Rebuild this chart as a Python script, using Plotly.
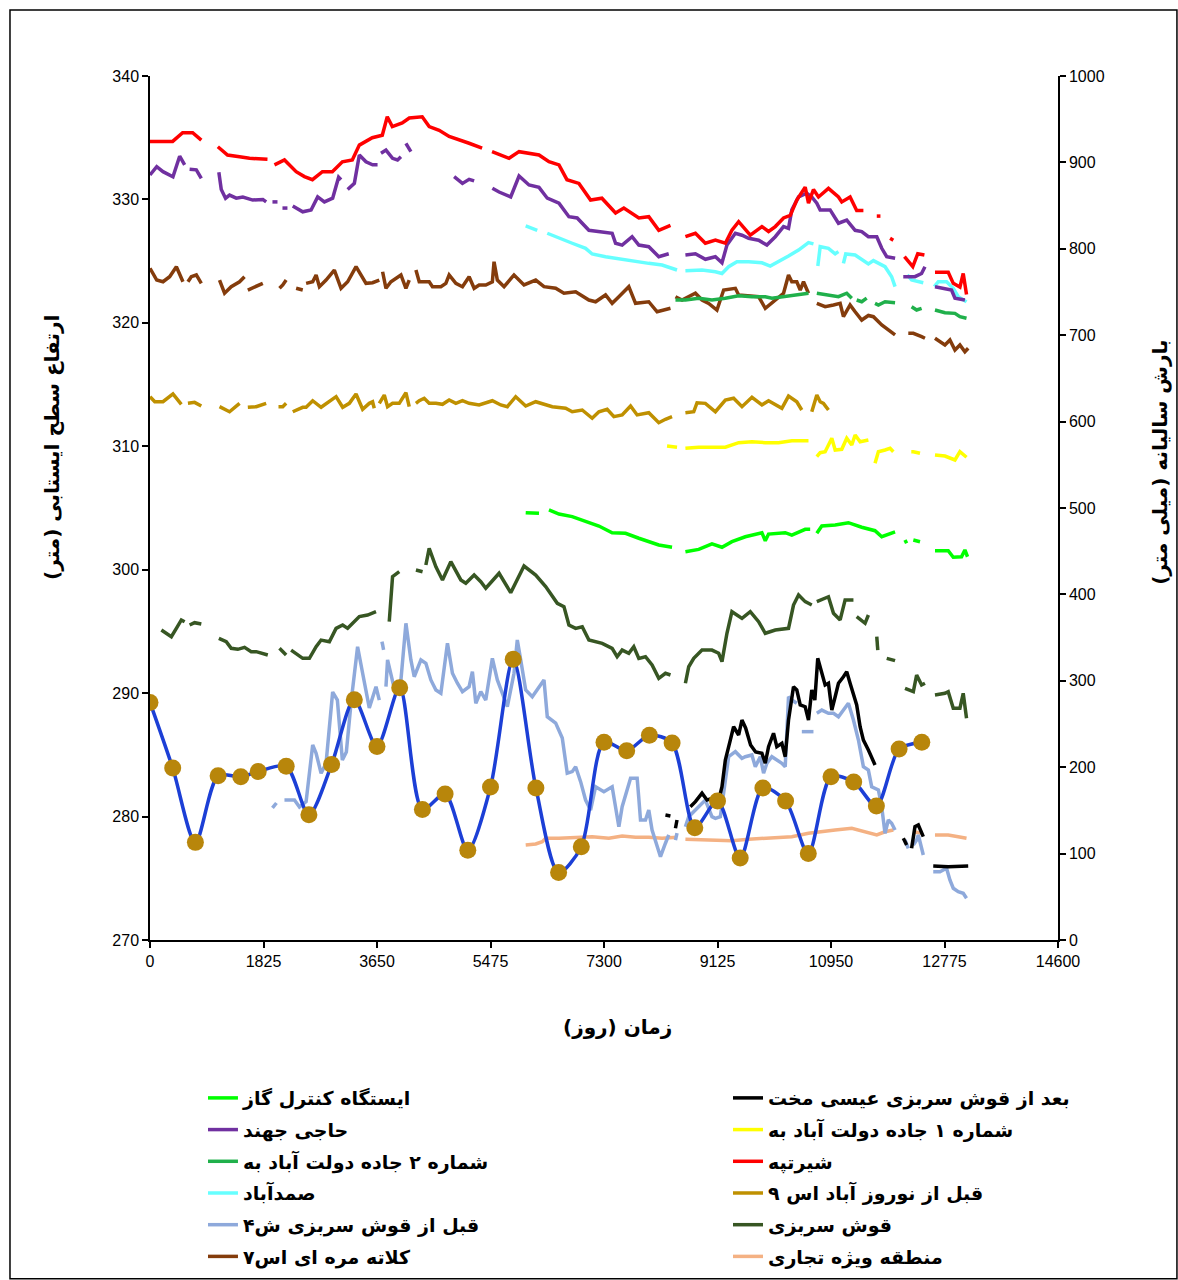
import plotly.graph_objects as go

# ---------------- annual precipitation (right axis) ----------------
RAIN_DAYS = [0, 365, 730, 1095, 1460, 1740, 2190, 2555, 2920, 3285, 3650, 4015, 4380, 4745,
             5110, 5475, 5840, 6205, 6570, 6935, 7300, 7665, 8030, 8395, 8760, 9125, 9490,
             9855, 10220, 10585, 10950, 11315, 11680, 12045, 12410]
RAIN_MM = [275, 199, 113, 190, 189, 195, 201, 145, 203, 278, 224, 292, 151, 169, 104, 177, 325,
           176, 78, 108, 229, 219, 237, 228, 130, 161, 95, 176, 161, 100, 189, 183, 155, 221, 229]

# ---------------- groundwater levels (left axis), None marks a gap ----------------
GAS_DAYS = [6041, 6255, None, 6415, 6576, 6789, 7004, 7218, 7431, 7646, 7860, 8181, 8394, None,
            8609, 8823, 9036, 9197, 9357, 9572, 9839, 9893, 9946, 10214, 10320, 10535, 10615, None,
            10722, 10802, 11017, 11230, 11444, 11658, 11766, 11980, None, 12140, 12166, None,
            12274, 12381, None, 12622, 12835, 12916, 13049, 13103, 13145]
GAS_LEVEL = [304.62, 304.57, None, 304.84, 304.51, 304.3, 303.89, 303.54, 303.0, 302.95, 302.55, 302.0, 301.82, None,
             301.46, 301.65, 302.09, 301.82, 302.27, 302.67, 303.0, 302.35, 302.89, 303.0, 302.81, 303.27, 303.27, None,
             302.95, 303.54, 303.62, 303.81, 303.44, 303.16, 302.67, 303.06, None, 302.41, 302.14, None,
             302.41, 302.27, None, 301.54, 301.54, 301.01, 301.05, 301.6, 301.05]

AFTER_GHOSH_DAYS = [8288, 8368, None, 8449, 8474, None,
                    8689, 8770, 8876, 8956, 9036, 9144, 9197, 9251, 9331, 9384, 9465, 9518, 9577, 9657,
                    9738, 9839, 9893, 9946, 10026, 10079, 10160, 10214, 10267, 10347, 10400, 10455, 10535,
                    10588, 10641, 10690, 10737, 10802, 10856, 10909, 10963, 11017, 11070, 11150, 11203,
                    11257, 11311, 11363, 11418, 11471, 11551, 11604, 11658, None,
                    12113, 12166, None, 12246, 12300, 12354, 12434, None, 12594, 12835, 13156]
AFTER_GHOSH_LEVEL = [280.13, 280.05, None, 279.05, 279.72, None,
                     280.8, 281.21, 281.89, 281.34, 281.48, 281.34, 282.42, 284.58, 286.2, 287.28, 286.61,
                     287.82, 287.18, 285.8, 285.23, 285.13, 284.32, 285.66, 286.75, 285.66, 285.94, 284.85,
                     287.82, 290.52, 290.26, 289.04, 288.9, 287.82, 290.26, 289.44, 292.82, 291.74, 290.66,
                     290.8, 288.63, 289.71, 290.8, 291.33, 291.74, 290.8, 289.99, 289.04, 287.28, 286.2,
                     285.39, 284.85, 284.18, None,
                     278.24, 277.7, None, 277.43, 279.18, 279.32, 278.37, None, 276.0, 275.94, 276.0]

HAJI_DAYS = [0, 108, 209, 369, 477, 557, None, 637, 745, 825, None,
             1107, 1146, 1215, 1279, 1387, 1493, 1653, 1814, 1868, None, 1969, 2050, None, 2130, 2210, None,
             2295, 2456, 2590, 2696, 2804, 2937, 3033, 3072, None,
             3178, 3286, 3366, 3473, 3579, 3659, None, 3714, 3794, 3900, 3980, 4035, None, 4115, 4195, None,
             4890, 5024, 5131, 5212, None,
             5505, 5613, 5800, 5934, 6094, 6255, 6388, 6576, 6736, 6869, 7057, 7271, 7431, 7486, 7592,
             7752, 7860, 8020, 8181, 8341, None,
             8609, 8770, 8930, 9091, 9197, 9277, 9412, 9519, 9625, 9786, 9919, 10054, 10187, 10267,
             10320, 10428, 10561, 10641, 10722, 10776, 10936, 11070, 11203, 11338, 11444, 11551,
             11686, 11766, 11846, 11981, None,
             12112, 12300, 12406, 12461, None, 12622, 12782, 12888, 12943, 13103]
HAJI_LEVEL = [331.98, 332.65, 332.25, 331.84, 333.5, 332.8, None, 332.45, 332.4, 331.7, None,
              332.2, 330.8, 330.1, 330.35, 330.1, 330.2, 329.95, 330.0, 329.8, None, 329.8, 329.8, None, 329.3, 329.3, None,
              329.47, 329.0, 329.15, 330.2, 329.8, 330.1, 331.8, 331.6, None,
              330.8, 331.3, 333.6, 333.05, 332.8, 332.8, None, 333.74, 334.0, 333.33, 333.2, 333.46, None, 334.55, 333.87, None,
              331.84, 331.3, 331.63, 331.5, None,
              330.9, 330.6, 330.2, 331.9, 331.17, 330.98, 330.1, 329.7, 328.6, 328.5, 327.5, 327.4, 327.26, 326.45, 326.3,
              326.98, 326.3, 326.17, 325.36, 325.6, None,
              325.5, 325.6, 325.15, 325.36, 324.87, 326.3, 327.26, 327.1, 326.85, 326.7, 326.3, 326.98, 327.8, 327.66,
              329.15, 330.2, 330.5, 330.2, 329.7, 329.15, 329.15, 328.07, 328.33, 327.5, 327.4, 326.98,
              326.98, 326.04, 325.36, 325.23, None,
              323.74, 323.74, 324.0, 324.55, None, 322.93, 322.8, 322.66, 322.0, 321.85]

ROAD1_DAYS = [8314, 8474, None, 8609, 8823, 9036, 9251, 9465, 9679, 9893, 10107, 10320, 10588, None,
              10722, 10776, 10856, 10963, 11017, 11123, 11203, 11284, 11338, 11418, 11551, None,
              11658, 11712, 11819, 11900, 11952, None, 12241, 12274, 12381, None,
              12622, 12782, 12943, 13023, 13129]
ROAD1_LEVEL = [310.02, 309.92, None, 309.84, 309.92, 309.92, 309.92, 310.29, 310.37, 310.29, 310.29, 310.45, 310.45, None,
               309.16, 309.48, 309.56, 310.65, 309.7, 309.76, 310.65, 310.1, 310.91, 310.37, 310.51, None,
               308.62, 309.56, 309.7, 309.84, 309.56, None, 309.56, 309.56, 309.43, None,
               309.3, 309.21, 308.89, 309.56, 309.11]

ROAD2_DAYS = [8449, 8609, 8823, 9036, 9251, 9465, 9679, 9893, 10000, 10214, 10375, 10588, None,
              10722, 10909, 11070, 11203, 11284, None, 11363, 11444, 11524, None,
              11658, 11712, 11819, 11980, None, 12246, 12327, 12407, None,
              12622, 12782, 12943, 13023, 13129]
ROAD2_LEVEL = [321.85, 321.85, 322.0, 321.85, 322.0, 322.2, 322.12, 322.12, 322.0, 322.12, 322.26, 322.4, None,
               322.4, 322.26, 322.12, 322.4, 322.0, None, 321.85, 321.71, 322.0, None,
               321.58, 321.45, 321.71, 321.63, None, 321.31, 321.04, 321.18, None,
               321.04, 320.82, 320.77, 320.5, 320.37]

SHIR_DAYS = [0, 364, 525, 686, 825, None, 1091, 1247, 1440, 1600, 1889, None,
             2001, 2162, 2350, 2483, 2612, 2772, 2932, 3093, 3253, 3366, 3574, 3735, 3815, 3896, 4056,
             4169, 4377, 4489, 4650, 4810, 5131, 5340, None,
             5500, 5773, 5934, 6094, 6255, 6415, 6576, 6704, 6897, 7084, 7266, 7486, 7619, 7860, 8020,
             8181, 8369, None,
             8609, 8770, 8930, 9091, 9251, 9357, 9465, 9652, 9839, 9946, 10054, 10187, 10295, 10400,
             10535, 10588, 10668, 10749, 10909, 11070, 11123, 11257, 11363, 11471, None,
             11686, 11745, None, 11900, 11952, None, 12131, 12265, 12345, 12452, None,
             12622, 12835, 12916, 13023, 13076, 13129]
SHIR_LEVEL = [334.7, 334.7, 335.4, 335.4, 334.8, None, 334.27, 333.6, 333.46, 333.33, 333.25, None,
              332.8, 333.2, 332.25, 331.85, 331.6, 332.25, 332.25, 333.05, 333.2, 334.4, 335.0, 335.2, 336.7, 335.9, 336.2,
              336.6, 336.7, 335.9, 335.6, 335.1, 334.55, 334.15, None,
              333.87, 333.33, 333.87, 333.74, 333.6, 333.05, 332.8, 331.6, 331.3, 329.95, 330.1, 328.9, 329.3, 328.5, 328.6,
              327.5, 327.9, None,
              326.98, 327.26, 326.45, 326.7, 326.45, 327.5, 328.2, 327.1, 327.8, 327.4, 327.8, 328.5, 328.7, 329.95,
              331.0, 329.7, 330.8, 330.2, 330.9, 330.2, 329.8, 330.2, 329.1, 329.1, None,
              328.65, 328.65, None, 326.85, 326.7, None, 325.36, 324.55, 325.6, 325.5, None,
              324.1, 324.1, 323.2, 322.9, 324.0, 322.3]

SAMAD_DAYS = [6041, 6227, None,
              6388, 6576, 6789, 7004, 7110, 7325, 7592, 7807, 8020, 8234, 8474, None,
              8609, 8876, 9091, 9197, 9304, 9437, 9625, 9839, 9973, 10107, 10267, 10428, 10588, 10668, None,
              10738, 10776, 10909, 11017, 11070, None,
              11150, 11187, 11338, 11498, 11551, 11632, 11819, 11925, 11980, None,
              12177, 12246, 12434, None, 12611, 12675, 12808, 12916, 12996, 13129]
SAMAD_LEVEL = [327.85, 327.5, None,
               327.26, 326.85, 326.45, 326.04, 325.58, 325.36, 325.15, 324.95, 324.82, 324.69, 324.28, None,
               324.23, 324.28, 324.14, 324.0, 324.55, 324.95, 324.95, 324.87, 324.6, 324.95, 325.42, 325.9, 326.5, 326.4, None,
               324.6, 326.17, 326.04, 325.6, 325.77, None,
               324.82, 325.58, 325.5, 325.0, 324.77, 325.04, 324.55, 323.74, 322.93, None,
               323.88, 323.47, 323.25, None, 322.93, 323.33, 323.33, 322.8, 322.12, 321.7]

NOWRUZ_DAYS = [0, 77, 209, 369, 504, None, 610, 717, 825, None, 1118, 1279, 1440, None,
               1573, 1708, 1868, None, 2066, 2135, 2189, None,
               2295, 2376, 2456, 2510, 2616, 2751, 2884, 2992, 3098, 3205, 3313, 3419, 3526, 3579, 3606, None,
               3687, 3767, 3820, 3900, 4008, 4115, 4168, None,
               4276, 4329, 4409, 4489, 4597, 4703, 4810, 4918, 5024, 5131, 5292, 5452, 5505, 5640, 5746,
               5880, 6041, 6202, 6362, 6469, 6683, 6789, 6950, 7110, 7218, 7351, 7459, 7592, 7727, 7833,
               8020, 8181, 8288, 8394, None,
               8609, 8743, 8796, 8930, 9091, 9251, 9384, 9519, 9679, 9839, 9946, 10160, 10267, 10400, 10480, None,
               10641, 10722, 10776, 10829, 10909]
NOWRUZ_LEVEL = [314.02, 313.61, 313.61, 314.24, 313.4, None, 313.48, 313.56, 313.26, None, 313.21, 312.8, 313.48, None,
                313.16, 313.21, 313.48, None, 313.21, 313.21, 313.48, None,
                312.8, 313.0, 313.16, 313.16, 313.69, 313.16, 313.61, 314.02, 313.16, 313.48, 314.24, 313.0, 313.48, 313.61, 313.08, None,
                313.48, 314.15, 313.21, 313.48, 313.48, 314.34, 313.21, None,
                313.48, 313.69, 313.89, 313.48, 313.48, 313.4, 313.75, 313.48, 313.69, 313.48, 313.35, 313.61, 313.69, 313.35, 313.21,
                314.02, 313.26, 313.61, 313.35, 313.21, 313.08, 312.8, 312.94, 312.27, 312.8, 313.0, 312.4, 312.54, 313.26, 312.54,
                312.72, 311.91, 312.19, 312.4, None,
                312.72, 312.8, 313.53, 313.48, 312.8, 313.75, 313.89, 313.21, 313.97, 313.35, 313.69, 313.08, 314.07, 313.61, 312.94, None,
                312.8, 314.15, 313.61, 313.48, 312.94]

BEFORE_GHOSH_DAYS = [1969, 2033, None,
                     2162, 2323, 2403, 2510, 2616, 2671, 2751, 2831, 2937, 3013, 3093, 3157, 3237, 3338, 3419,
                     3526, 3634, 3687, None, 3730, 3756, None,
                     3794, 3820, 3927, 4035, 4115, 4195, 4249, 4356, 4436, 4516, 4597, 4677, 4783, 4863, 4943,
                     5024, 5131, 5184, 5239, 5319, 5399, 5505, 5585, 5666, 5746, 5853, 5906, 5961, 6041, 6147,
                     6255, 6335, 6388, 6523, 6629, 6709, 6789, 6844, 6924, 7004, 7084, 7165, 7298, 7431, 7539,
                     7592, 7727, 7833, 7860, 7887, 7967, 8020, 8073, 8154, 8208, 8288, 8341, None,
                     8449, 8474, None,
                     8609, 8662, 8770, 8930, 9036, 9091, 9171, 9251, 9304, 9412, 9518, 9572, 9678, 9733, 9813,
                     9866, 9919, 9999, 10079, 10160, 10214, 10267, 10320, 10400, None,
                     10481, 10668, None,
                     10722, 10802, 10909, 10990, 11070, 11150, 11230, 11311, 11391, 11471, 11551, 11604, 11712,
                     11765, 11819, 11872, 11925, 11980, None,
                     12140, 12193, None, 12274, 12327, 12354, 12407, 12434, None,
                     12594, 12702, 12808, 12862, 12916, 12996, 13076, 13129]
BEFORE_GHOSH_LEVEL = [280.7, 281.1, None,
                      281.34, 281.34, 280.78, 281.21, 285.8, 285.13, 283.51, 284.32, 290.09, 289.44, 284.58, 285.23, 289.44, 293.76, 291.61,
                      288.8, 290.52, 289.44, None, 294.17, 293.5, None,
                      290.52, 292.69, 290.39, 291.07, 295.66, 292.69, 291.33, 292.69, 292.42, 291.07, 290.26, 289.99, 294.04, 291.61, 290.8,
                      290.12, 290.52, 291.74, 289.18, 290.12, 289.44, 292.82, 291.07, 289.99, 288.9, 291.61, 294.31, 292.69, 290.26, 289.71,
                      290.52, 291.07, 288.09, 287.58, 286.37, 283.51, 283.64, 284.04, 282.83, 281.34, 280.53, 282.42, 282.02, 282.42, 279.18,
                      280.8, 283.1, 283.1, 281.48, 279.72, 279.72, 280.53, 278.91, 277.56, 276.75, 277.84, 278.51, None,
                      278.1, 278.65, None,
                      279.18, 279.99, 280.53, 281.34, 279.99, 279.86, 279.99, 282.7, 284.85, 285.26, 284.72, 284.85, 284.99, 284.04, 284.85,
                      283.51, 284.32, 284.85, 284.58, 284.32, 284.04, 289.71, 289.44, 289.18, None,
                      286.88, 286.88, None,
                      288.37, 288.63, 288.37, 288.37, 288.09, 288.63, 289.18, 287.82, 286.2, 284.04, 283.77, 282.42, 282.15,
                      280.8, 278.65, 279.72, 279.46, 278.91, None,
                      278.1, 277.43, None, 277.7, 278.1, 278.51, 277.29, 276.89, None,
                      275.53, 275.53, 275.81, 274.86, 274.19, 273.91, 273.78, 273.38]

GHOSH_DAYS = [183, 343, 424, 504, 557, None, 637, 717, 825, None,
              1107, 1226, 1306, 1412, 1520, 1627, 1708, 1788, 1894, None, 2082, 2189, None,
              2269, 2375, 2456, 2563, 2671, 2751, 2884, 2992, 3098, 3178, 3258, 3366, 3499, 3634, None,
              3847, 3900, 4008, None, 4276, 4383, None,
              4436, 4489, 4597, 4703, 4837, 4998, 5078, 5212, 5319, 5399, 5613, 5800, 6014, 6202, 6362,
              6549, 6656, 6736, 6844, 6950, 7057, 7271, 7431, 7511, 7592, 7699, 7779, 7860, 7967, 8073,
              8181, 8288, 8369, None,
              8609, 8662, 8743, 8876, 9036, 9144, 9197, 9277, 9357, 9519, 9652, 9786, 9893, 10054, 10267,
              10347, 10428, 10535, 10641, None,
              10722, 10909, 10990, 11097, 11177, 11311, None, 11363, 11498, 11551, None, 11686, 11702, None,
              11846, 11980, None, 12140, 12274, 12327, 12407, 12461, None,
              12622, 12782, 12835, 12916, 13023, 13076, 13129]
GHOSH_LEVEL = [295.11, 294.57, 295.25, 295.93, 295.79, None, 295.52, 295.71, 295.6, None,
               294.44, 294.17, 293.63, 293.55, 293.71, 293.36, 293.36, 293.23, 293.09, None, 293.63, 293.09, None,
               293.49, 293.09, 292.82, 292.82, 293.76, 294.3, 294.17, 295.25, 295.52, 295.25, 295.66, 296.2, 296.33, 296.6, None,
               295.79, 299.44, 299.84, None, 299.98, 299.84, None,
               300.38, 301.73, 300.24, 299.17, 300.65, 299.17, 298.9, 299.57, 299.03, 298.5, 299.71, 298.14, 300.3, 299.57, 298.63,
               297.28, 297.01, 295.52, 295.25, 295.38, 294.3, 294.03, 293.63, 292.95, 293.49, 293.23, 293.76, 292.82, 292.95, 292.28,
               291.2, 291.61, 291.47, None,
               290.8, 292.14, 292.82, 293.49, 293.49, 293.23, 292.55, 294.85, 296.6, 296.06, 296.6, 295.79, 294.85, 295.11, 295.25,
               297.14, 297.95, 297.41, 297.14, None,
               297.41, 297.81, 296.47, 295.93, 297.55, 297.55, None, 296.2, 295.66, 296.33, None, 294.57, 293.49, None,
               292.82, 292.63, None, 290.39, 290.12, 291.47, 290.66, 290.8, None,
               289.85, 289.99, 290.12, 288.77, 288.77, 289.99, 287.96]

KALATEH_DAYS = [0, 108, 209, 316, 424, 530, None, 610, 664, 745, 825, None,
                1118, 1199, 1306, 1440, 1520, None, 1573, 1680, 1814, None, 2082, 2135, 2189, None,
                2350, 2456, None,
                2510, 2616, 2671, 2724, 2831, 2964, 3072, 3178, 3313, 3473, 3579, 3687, None,
                3740, 3794, 3874, 3955, 4035, 4115, 4168, None,
                4276, 4329, 4489, 4542, 4677, 4757, 4810, 4918, 5024, 5131, 5212, 5292, 5399, 5505, 5532,
                5585, 5693, 5853, 6014, 6202, 6335, 6523, 6656, 6844, 7057, 7165, 7325, 7431, 7539, 7699,
                7807, 8020, 8154, 8369, None,
                8449, 8555, 8770, 8876, 8983, 9116, 9224, 9412, 9465, 9786, 9893, 10054, 10187, 10267, 10320,
                10400, 10455, 10508, 10588, None,
                10722, 10856, 10990, 11097, 11150, 11257, 11338, 11444, 11551, 11632, 11766, 11900, 11980, None,
                12193, 12274, 12407, 12461, None,
                12622, 12782, 12862, 12943, 13023, 13103, 13156]
KALATEH_LEVEL = [324.42, 323.47, 323.33, 323.74, 324.55, 323.33, None, 323.33, 323.74, 323.88, 323.2, None,
                 323.47, 322.4, 322.93, 323.33, 323.74, None, 322.66, 322.93, 323.2, None, 322.8, 323.07, 323.47, None,
                 322.8, 322.66, None,
                 323.2, 323.33, 323.88, 322.93, 323.47, 324.28, 322.8, 323.33, 324.55, 323.2, 323.25, 323.47, None,
                 324.14, 322.8, 323.33, 323.6, 323.88, 322.8, 323.47, None,
                 324.28, 323.33, 323.33, 322.93, 322.93, 323.2, 323.88, 323.2, 322.93, 323.74, 322.8, 323.07, 323.07, 323.33, 324.95,
                 323.47, 322.93, 323.88, 323.07, 323.47, 322.93, 322.8, 322.4, 322.52, 321.85, 321.71, 322.26, 321.58, 322.12, 322.93,
                 321.58, 321.71, 320.9, 321.18, None,
                 322.12, 321.85, 322.4, 321.85, 321.58, 321.04, 322.66, 322.8, 322.26, 322.12, 321.18, 321.85, 322.4, 323.88, 323.33,
                 323.33, 322.66, 323.33, 322.4, None,
                 321.58, 321.31, 321.45, 321.58, 320.5, 321.45, 320.9, 320.23, 320.6, 320.5, 319.83, 319.28, 319.02, None,
                 319.15, 319.15, 318.88, 318.75, None,
                 318.75, 318.21, 318.61, 317.8, 318.21, 317.66, 317.94]

ZONE_DAYS = [6041, 6202, 6308, 6362, 6576, 6844, 7110, 7378, 7592, 7807, 8020, 8234, 8474, None,
             8609, 8876, 9091, 9357, 9625, 9893, 10054, 10320, 10588, 10856, 11017, 11284, 11498, 11686,
             11819, 11952, None, 12274, 12407, None, 12622, 12835, 12996, 13129]
ZONE_LEVEL = [277.7, 277.78, 277.97, 278.24, 278.24, 278.32, 278.37, 278.24, 278.43, 278.32, 278.32, 278.24, 278.32, None,
              278.16, 278.1, 278.05, 278.05, 278.16, 278.24, 278.24, 278.37, 278.65, 278.77, 278.91, 279.05, 278.77, 278.51,
              278.77, 278.91, None, 278.77, 278.65, None, 278.51, 278.51, 278.37, 278.24]

X_TICKS = [0, 1825, 3650, 5475, 7300, 9125, 10950, 12775, 14600]

# (name, days, levels, colour, legend column, row) in drawing order, bottom first
WELLS = [
    ("منطقه ویژه تجاری", ZONE_DAYS, ZONE_LEVEL, "#F4B183", "legend2", 6),
    ("قبل از قوش سربزی ش۴", BEFORE_GHOSH_DAYS, BEFORE_GHOSH_LEVEL, "#8EA9DB", "legend", 5),
    ("بعد از قوش سربزی عیسی مخت", AFTER_GHOSH_DAYS, AFTER_GHOSH_LEVEL, "#000000", "legend2", 1),
    ("قوش سربزی", GHOSH_DAYS, GHOSH_LEVEL, "#375623", "legend2", 5),
    ("کلاته مره ای اس۷", KALATEH_DAYS, KALATEH_LEVEL, "#843C0C", "legend", 6),
    ("شماره ۲ جاده دولت آباد به", ROAD2_DAYS, ROAD2_LEVEL, "#20B04B", "legend", 3),
    ("ایستگاه کنترل گاز", GAS_DAYS, GAS_LEVEL, "#00FF00", "legend", 1),
    ("شماره ۱ جاده دولت آباد به", ROAD1_DAYS, ROAD1_LEVEL, "#FFFF00", "legend2", 2),
    ("قبل از نوروز آباد اس ۹", NOWRUZ_DAYS, NOWRUZ_LEVEL, "#BF9000", "legend2", 4),
    ("صمدآباد", SAMAD_DAYS, SAMAD_LEVEL, "#66FFFF", "legend", 4),
    ("حاجی جهند", HAJI_DAYS, HAJI_LEVEL, "#7030A0", "legend", 2),
    ("شیرتپه", SHIR_DAYS, SHIR_LEVEL, "#FF0000", "legend2", 3),
]

FA_FONT = "DejaVu Sans"
NUM_FONT = "Liberation Sans"

fig = go.Figure()
for name, days, level, colour, column, row in WELLS:
    fig.add_trace(go.Scatter(
        x=days, y=level, mode="lines", name=name, legend=column, legendrank=row,
        legendgroup=name, line=dict(color=colour, width=3.5), connectgaps=False, yaxis="y",
    ))

fig.add_trace(go.Scatter(
    x=RAIN_DAYS, y=RAIN_MM, mode="lines+markers", name="بارش سالیانه", showlegend=False,
    line=dict(color="#1C3FD6", width=3.5, shape="spline", smoothing=0.8),
    marker=dict(color="#B8860B", size=17, line=dict(width=0)),
    yaxis="y2",
))

axis_common = dict(
    showgrid=False, zeroline=False, showline=True, linecolor="black", linewidth=1.5,
    ticks="outside", ticklen=6, tickwidth=1.5, tickcolor="black",
    tickfont=dict(family=NUM_FONT, size=16, color="black"),
)

legend_common = dict(
    orientation="v", xanchor="left", yanchor="top", xref="container", yref="container",
    y=0.157, tracegroupgap=4, traceorder="grouped",
    font=dict(family=FA_FONT, size=19, color="black", weight="bold"),
    bgcolor="rgba(0,0,0,0)", itemwidth=30,
)

title_font = dict(family=FA_FONT, size=20, color="black", weight="bold")

fig.update_layout(
    width=1178, height=1280,
    margin=dict(l=150, r=120, t=76, b=340, autoexpand=False),
    paper_bgcolor="white", plot_bgcolor="white",
    xaxis=dict(range=[0, 14600], tickvals=X_TICKS, ticktext=[str(v) for v in X_TICKS], **axis_common),
    yaxis=dict(range=[270, 340], dtick=10, tick0=270, **axis_common),
    yaxis2=dict(range=[0, 1000], dtick=100, tick0=0, overlaying="y", side="right", **axis_common),
    showlegend=True,
    legend=dict(x=0.1723, **legend_common),
    legend2=dict(x=0.618, **legend_common),
    annotations=[
        dict(text="ارتفاع سطح ایستابی (متر)", xref="paper", yref="paper", x=-0.108, y=0.5706,
             xanchor="center", yanchor="middle", showarrow=False, textangle=-90, font=title_font),
        dict(text="بارش سالیانه (میلی متر)", xref="paper", yref="paper", x=1.113, y=0.553,
             xanchor="center", yanchor="middle", showarrow=False, textangle=-90, font=title_font),
        dict(text="زمان (روز)", xref="paper", yref="paper", x=0.515, y=-0.1007,
             xanchor="center", yanchor="middle", showarrow=False, font=title_font),
    ],
    shapes=[
        dict(type="rect", xref="paper", yref="paper", x0=-0.1542, x1=1.131, y0=-0.392, y1=1.0764,
             line=dict(color="black", width=1.5), fillcolor="rgba(0,0,0,0)", layer="below"),
    ],
)

fig.write_html("out.html")
